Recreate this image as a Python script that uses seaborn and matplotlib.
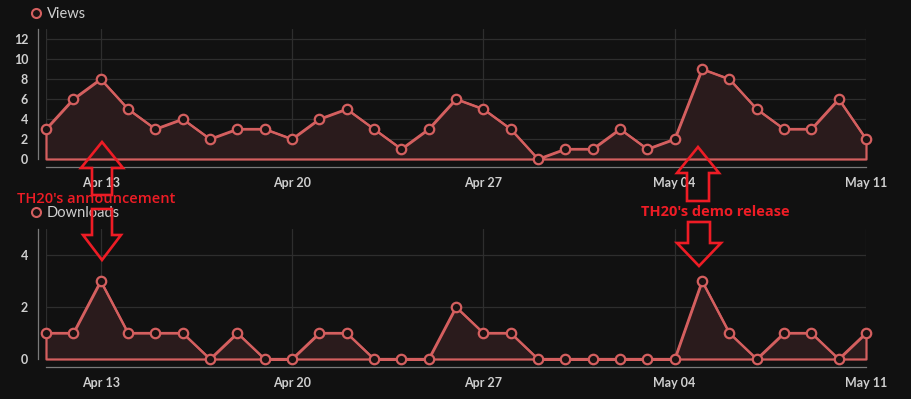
# stats_chart.py
# Views / downloads per day with TH20 announcement and demo release markers

import matplotlib
matplotlib.use('Agg')
import pandas as pd
import matplotlib.pyplot as plt
from matplotlib.patches import Polygon
import seaborn as sns

# --- data -------------------------------------------------------------
start_date = '2025-04-11'
end_date = '2025-05-11'
views = [3, 6, 8, 5, 3, 4, 2, 3, 3, 2, 4, 5, 3, 1, 3, 6,
         5, 3, 0, 1, 1, 3, 1, 2, 9, 8, 5, 3, 3, 6, 2]
downloads = [1, 1, 3, 1, 1, 1, 0, 1, 0, 0, 1, 1, 0, 0, 0, 2,
             1, 1, 0, 0, 0, 0, 0, 0, 3, 1, 0, 1, 1, 0, 1]
tick_dates = ['2025-04-11', '2025-04-13', '2025-04-20', '2025-04-27', '2025-05-04', '2025-05-11']
tick_labels = ['', 'Apr 13', 'Apr 20', 'Apr 27', 'May 04', 'May 11']
view_ticks = [0, 2, 4, 6, 8, 10, 12]
download_ticks = [0, 2, 4]

BG = '#111111'
LINE = '#d45f5f'
FILL = '#2a1b1c'
GRID = '#2e2e2e'
SPINE = '#7a7a7a'
TEXT = '#cfcfcf'
NOTE = '#ee1c25'

W, H = 911, 399

sns.set_style('dark', {'axes.facecolor': BG, 'figure.facecolor': BG})
plt.rcParams['font.family'] = ['Lato', 'DejaVu Sans']

df = pd.DataFrame({
    'date': pd.date_range(start_date, end_date),
    'Views': views,
    'Downloads': downloads,
})


def px_box(left, top, right, bottom):
    """Convert pixel box (top-left origin) to figure fraction rect."""
    return [left / W, 1 - bottom / H, (right - left) / W, (bottom - top) / H]


def draw_series(ax, col, ymax, yticks):
    ax.fill_between(df['date'], 0, df[col], facecolor=FILL, edgecolor=LINE,
                    linewidth=1.6, clip_on=False, zorder=2)
    sns.lineplot(data=df, x='date', y=col, ax=ax, color=LINE, linewidth=1.6,
                 marker='o', markersize=6.8, markerfacecolor='#1a1212',
                 markeredgecolor=LINE, markeredgewidth=1.6, label=col,
                 zorder=3, clip_on=False)

    ax.set_xlim(df['date'].iloc[0], df['date'].iloc[-1])
    ax.set_ylim(0, ymax)
    ax.set_yticks(yticks)
    ax.set_xticks(pd.to_datetime(tick_dates), labels=tick_labels)
    ax.set_xlabel('')
    ax.set_ylabel('')
    ax.grid(True, color=GRID, linewidth=0.9, zorder=0)
    ax.set_axisbelow(True)

    for side in ('top', 'right'):
        ax.spines[side].set_visible(False)
    for side in ('left', 'bottom'):
        ax.spines[side].set_visible(True)
        ax.spines[side].set_color(SPINE)
        ax.spines[side].set_linewidth(0.9)
        ax.spines[side].set_position(('outward', 5.8))
    ax.tick_params(axis='both', colors=SPINE, length=4, width=0.9,
                   labelcolor=TEXT, labelsize=9, pad=3)
    for lab in ax.get_xticklabels() + ax.get_yticklabels():
        lab.set_fontweight('bold')

    leg = ax.legend(loc='center left', frameon=False, handlelength=0,
                    handletextpad=0.75, borderpad=0, borderaxespad=0,
                    fontsize=10.5, labelcolor=TEXT,
                    bbox_to_anchor=(0, 1), bbox_transform=ax.transAxes)
    for h in leg.legend_handles:
        h.set_linestyle('none')
        h.set_markersize(6.5)
        h.set_markeredgewidth(1.5)
    return leg


fig = plt.figure(figsize=(W / 100, H / 100), dpi=100)
ax_views = fig.add_axes(px_box(46, 29, 866, 159))
ax_dl = fig.add_axes(px_box(46, 229, 866, 359))

leg1 = draw_series(ax_views, 'Views', 13, view_ticks)
leg2 = draw_series(ax_dl, 'Downloads', 5, download_ticks)
leg1.set_bbox_to_anchor((36 / W, 1 - 14 / H), transform=fig.transFigure)
leg2.set_bbox_to_anchor((36 / W, 1 - 213 / H), transform=fig.transFigure)


# --- annotations -------------------------------------------------------
def block_arrow(cx, tip, base, tail, head_hw, shaft_hw):
    pts = [(cx, tip), (cx + head_hw, base), (cx + shaft_hw, base),
           (cx + shaft_hw, tail), (cx - shaft_hw, tail), (cx - shaft_hw, base),
           (cx - head_hw, base)]
    pts = [(x / W, 1 - y / H) for x, y in pts]
    fig.add_artist(Polygon(pts, closed=True, fill=False, edgecolor=NOTE,
                           linewidth=1.9, joinstyle='miter',
                           transform=fig.transFigure, zorder=10))


block_arrow(102, 142, 168, 195, 21, 10)
block_arrow(102, 260, 235, 209, 19, 10)
block_arrow(698, 147, 173, 201, 21, 11)
block_arrow(699, 266, 243, 222, 22, 11)

fig.text(17 / W, 1 - 199 / H, "TH20's announcement", color=NOTE,
         fontsize=10.5, fontweight='semibold', family=['Open Sans', 'DejaVu Sans'],
         ha='left', va='center', zorder=11)
fig.text(715 / W, 1 - 212 / H, "TH20's demo release", color=NOTE,
         fontsize=10.5, fontweight='bold', family=['Open Sans', 'DejaVu Sans'],
         ha='center', va='center', zorder=11)

fig.savefig('out.png', dpi=100, facecolor=BG)
